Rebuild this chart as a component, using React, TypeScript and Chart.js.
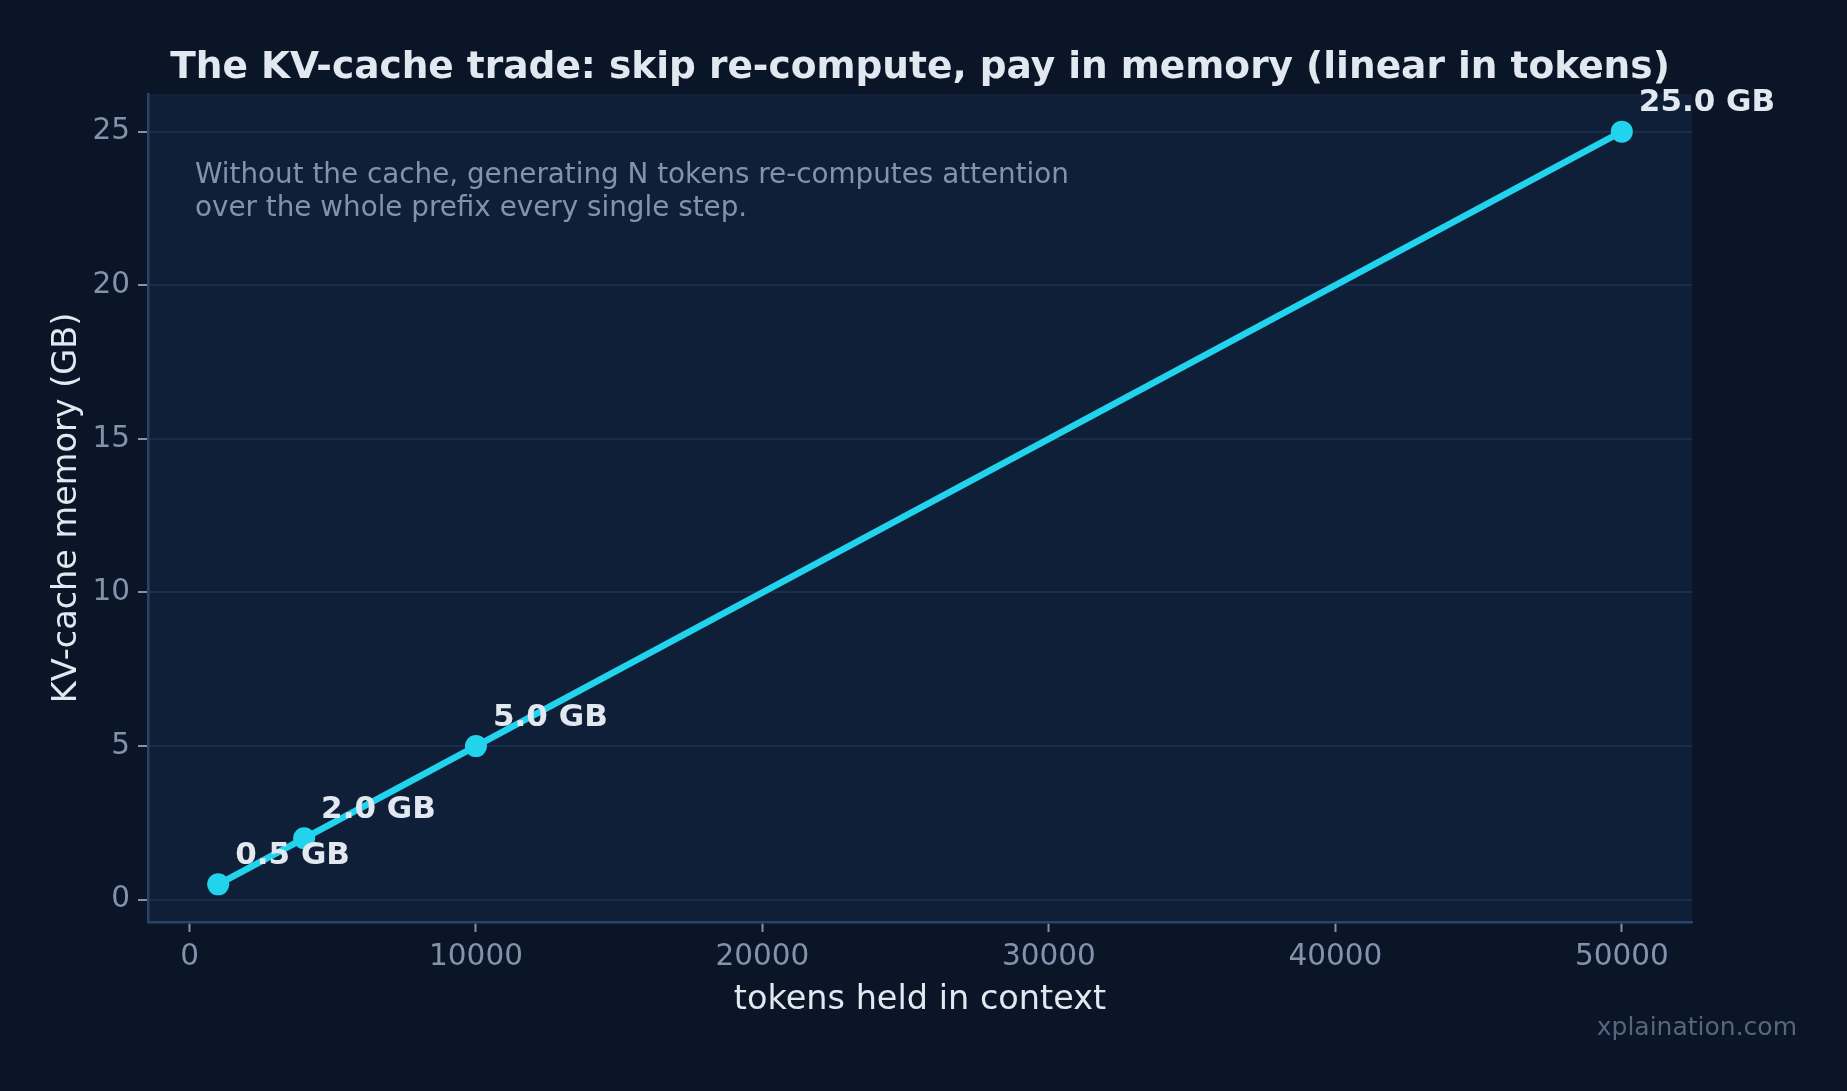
import React, { useEffect, useRef } from "react";
import { Chart, registerables } from "chart.js";

Chart.register(...registerables);

const tokens = [1000, 4000, 10000, 50000];
const memoryGB = [0.5, 2.0, 5.0, 25.0];
const pointLabels = ["0.5 GB", "2.0 GB", "5.0 GB", "25.0 GB"];
const xTickValues = [0, 10000, 20000, 30000, 40000, 50000];
const yTickValues = [0, 5, 10, 15, 20, 25];
const titleText = "The KV-cache trade: skip re-compute, pay in memory (linear in tokens)";
const noteLines = [
  "Without the cache, generating N tokens re-computes attention",
  "over the whole prefix every single step.",
];
const xTitle = "tokens held in context";
const yTitle = "KV-cache memory (GB)";
const watermark = "xplaination.com";

const W = 1847;
const H = 1091;
const FONT = "'DejaVu Sans', 'Liberation Sans', sans-serif";

const FIG_BG = "#0b1528";
const PLOT_BG = "#0f1f38";
const GRID = "#1b2d4b";
const SPINE = "#2a4468";
const TICK_TEXT = "#8193ad";
const LIGHT = "#e2e8f0";
const CYAN = "#22d3ee";
const NOTE = "#8193ad";
const MARK = "#56667f";

function span(values: number[]) {
  const lo = Math.min(...values);
  const hi = Math.max(...values);
  const m = (hi - lo) * 0.05;
  return [lo - m, hi + m];
}

export default function App() {
  const ref = useRef<HTMLCanvasElement | null>(null);

  useEffect(() => {
    const canvas = ref.current;
    if (!canvas) return;
    const [xMin, xMax] = span(tokens);
    const [yMin, yMax] = span(memoryGB);

    const decor = {
      id: "decor",
      beforeDraw(chart: any) {
        const { ctx, chartArea } = chart;
        ctx.save();
        ctx.fillStyle = FIG_BG;
        ctx.fillRect(0, 0, W, H);
        ctx.fillStyle = PLOT_BG;
        ctx.fillRect(chartArea.left, chartArea.top, chartArea.right - chartArea.left, chartArea.bottom - chartArea.top);
        ctx.restore();
      },
      afterDraw(chart: any) {
        const { ctx, chartArea, scales } = chart;
        ctx.save();
        // title
        ctx.fillStyle = LIGHT;
        ctx.font = `bold 37.5px ${FONT}`;
        ctx.textAlign = "center";
        ctx.textBaseline = "middle";
        ctx.fillText(titleText, (chartArea.left + chartArea.right) / 2, 68.5);

        // note
        ctx.fillStyle = NOTE;
        ctx.font = `27.8px ${FONT}`;
        ctx.textAlign = "left";
        noteLines.forEach((line, i) => {
          ctx.fillText(line, chartArea.left + 47, 175.5 + i * 33);
        });

        // point labels
        ctx.fillStyle = LIGHT;
        ctx.font = `bold 31px ${FONT}`;
        ctx.textBaseline = "alphabetic";
        tokens.forEach((t, i) => {
          const px = scales.x.getPixelForValue(t);
          const py = scales.y.getPixelForValue(memoryGB[i]);
          ctx.fillText(pointLabels[i], px + 17, py - 20.5);
        });

        // watermark
        ctx.fillStyle = MARK;
        ctx.font = `25px ${FONT}`;
        ctx.textAlign = "right";
        ctx.textBaseline = "middle";
        ctx.fillText(watermark, 1797, 1028);
        ctx.restore();
      },
    };

    const chart = new Chart(canvas, {
      type: "line",
      data: {
        datasets: [
          {
            data: tokens.map((t, i) => ({ x: t, y: memoryGB[i] })),
            borderColor: CYAN,
            backgroundColor: CYAN,
            borderWidth: 6.5,
            pointRadius: 11,
            pointBackgroundColor: CYAN,
            pointBorderWidth: 0,
            fill: false,
            tension: 0,
          },
        ],
      },
      options: {
        responsive: false,
        animation: false,
        devicePixelRatio: 1,
        layout: { padding: { left: 0, right: 155, top: 94, bottom: 0 } },
        plugins: { legend: { display: false }, tooltip: { enabled: false }, title: { display: false } },
        scales: {
          x: {
            type: "linear",
            min: xMin,
            max: xMax,
            afterBuildTicks: (scale: any) => {
              scale.ticks = xTickValues.map((v) => ({ value: v }));
            },
            afterFit: (scale: any) => {
              scale.height = H - 922;
            },
            grid: {
              drawOnChartArea: false,
              drawTicks: true,
              tickLength: 10,
              tickWidth: 2,
              tickColor: TICK_TEXT,
            },
            border: { display: true, color: SPINE, width: 2.5 },
            ticks: {
              color: TICK_TEXT,
              font: { family: FONT, size: 29.5 },
              padding: 7.5,
              maxRotation: 0,
              callback: (v: any) => String(v),
            },
            title: {
              display: true,
              text: xTitle,
              color: LIGHT,
              font: { family: FONT, size: 33.5 },
              padding: { top: 0, bottom: 70.5 },
            },
          },
          y: {
            type: "linear",
            min: yMin,
            max: yMax,
            afterBuildTicks: (scale: any) => {
              scale.ticks = yTickValues.map((v) => ({ value: v }));
            },
            afterFit: (scale: any) => {
              scale.width = 148;
            },
            grid: {
              color: GRID,
              lineWidth: 2,
              drawTicks: true,
              tickLength: 10,
              tickWidth: 2,
              tickColor: TICK_TEXT,
            },
            border: { display: true, color: SPINE, width: 2.5 },
            ticks: {
              color: TICK_TEXT,
              font: { family: FONT, size: 29.5 },
              padding: 8,
              callback: (v: any) => String(v),
            },
            title: {
              display: true,
              text: yTitle,
              color: LIGHT,
              font: { family: FONT, size: 33.5 },
              padding: { top: 47, bottom: 0 },
            },
          },
        },
      },
      plugins: [decor],
    } as any);

    return () => chart.destroy();
  }, []);

  return (
    <div style={{ position: "absolute", left: 0, top: 0, width: W, height: H, background: FIG_BG }}>
      <canvas ref={ref} width={W} height={H} style={{ display: "block", width: W, height: H }} />
    </div>
  );
}
